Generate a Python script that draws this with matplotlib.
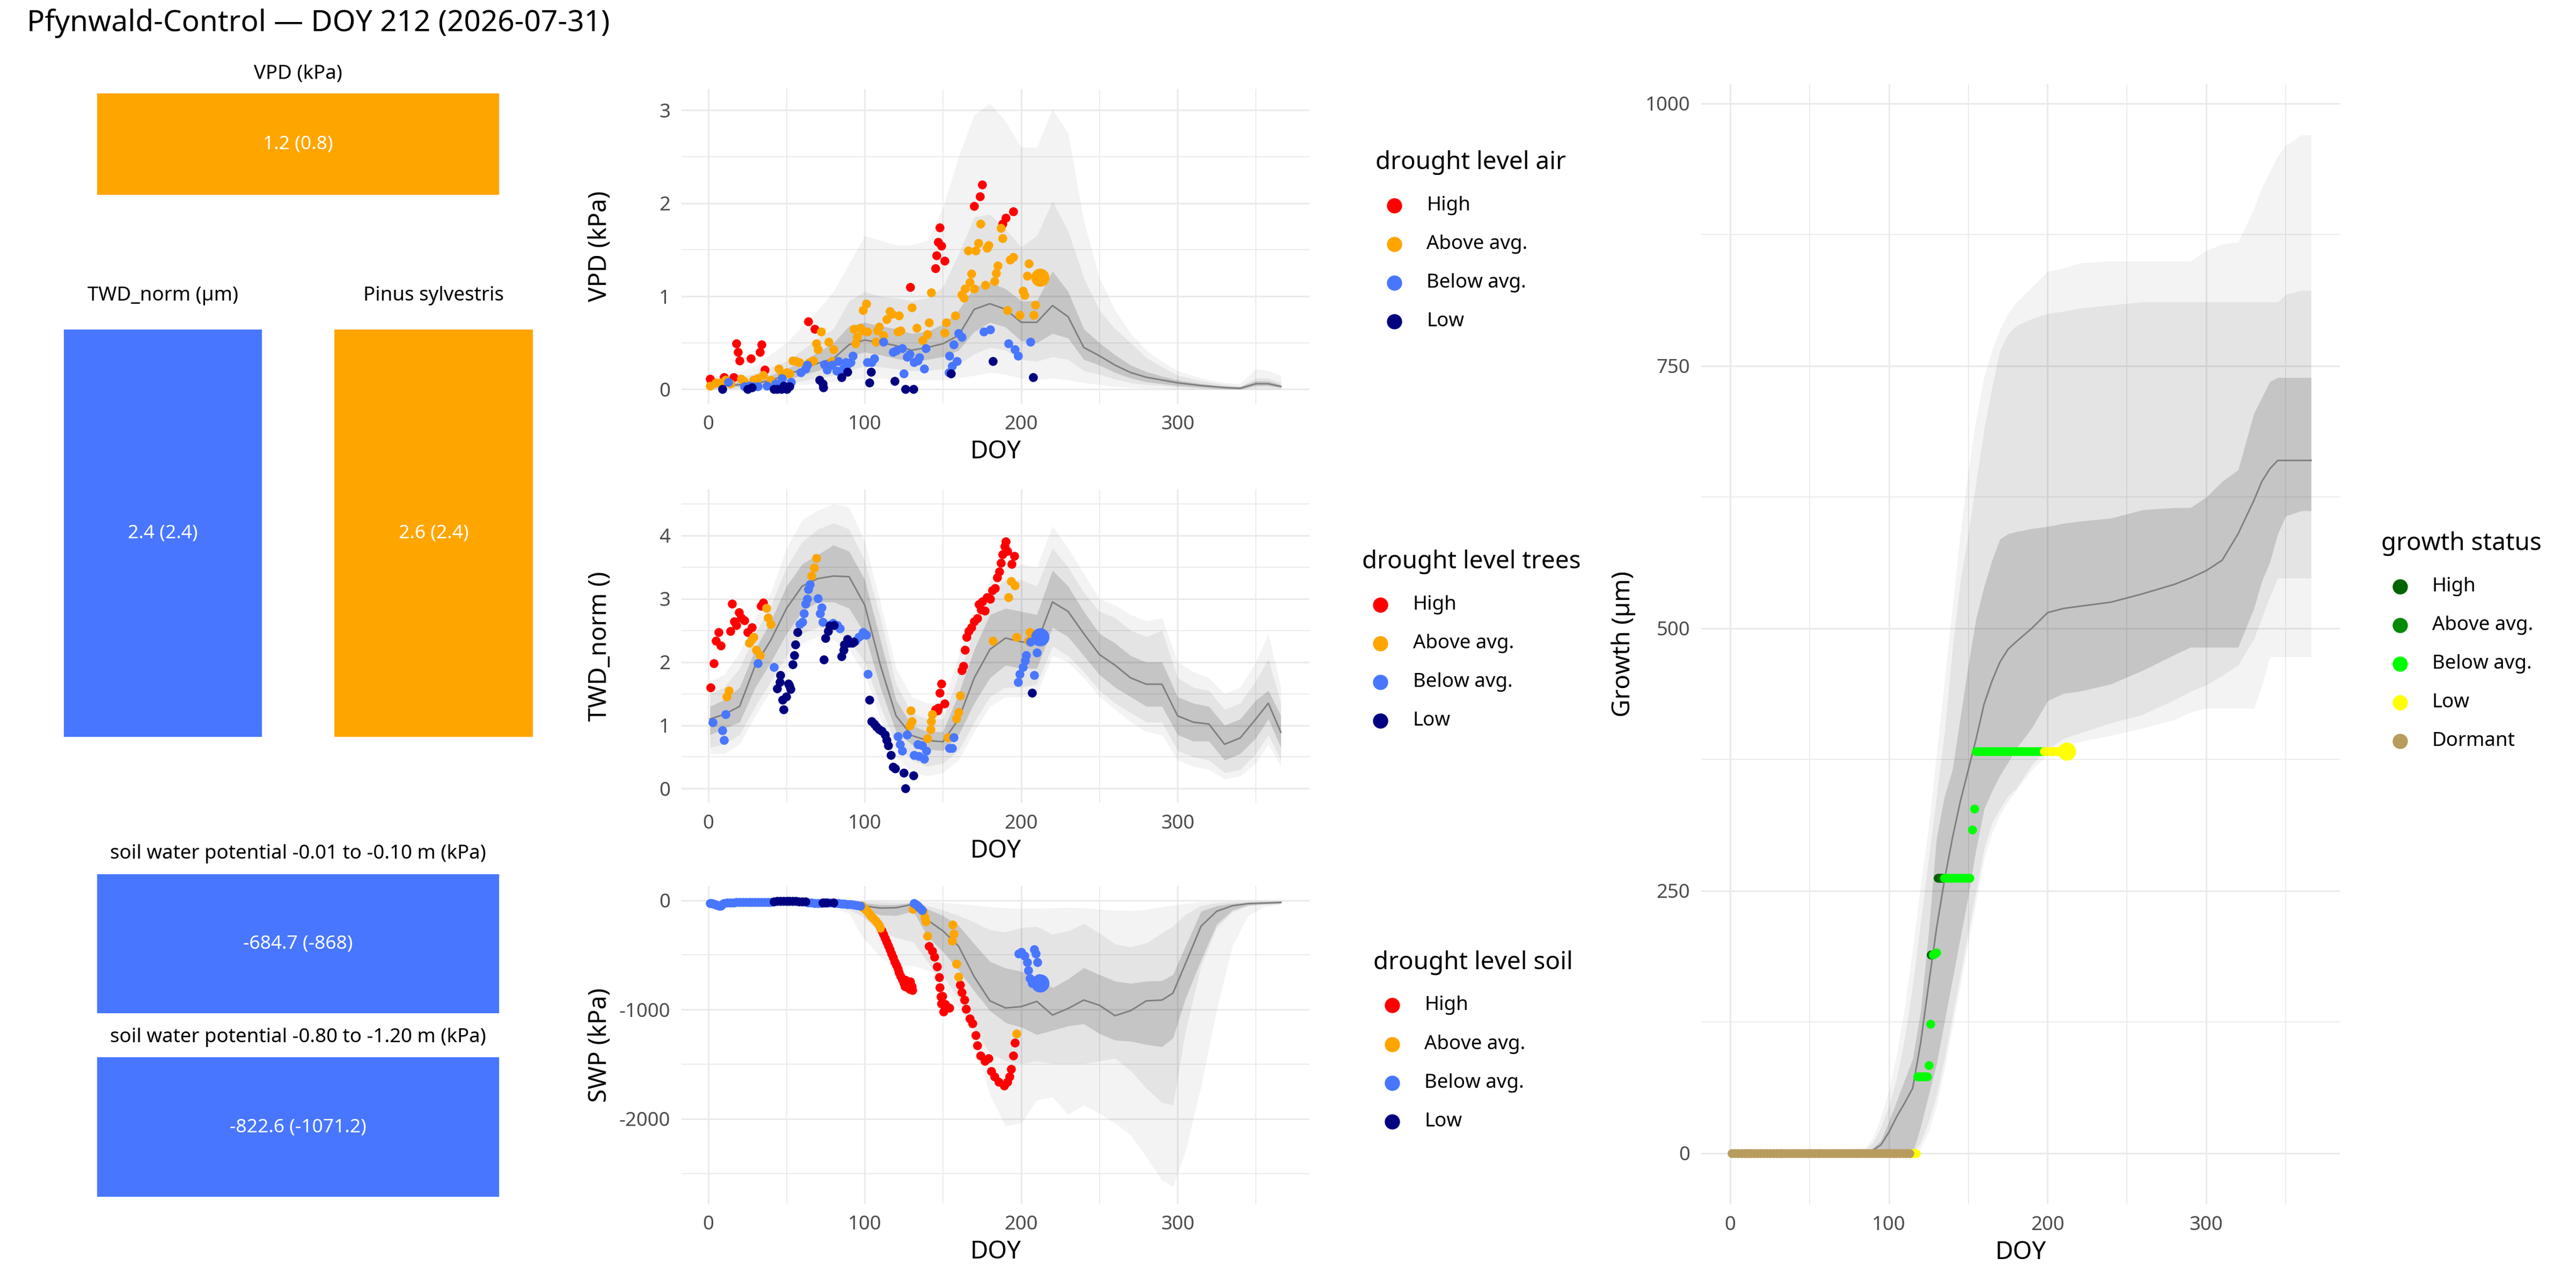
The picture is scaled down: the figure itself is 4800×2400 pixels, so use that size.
import matplotlib.pyplot as plt
from matplotlib.lines import Line2D

plt.rcParams['font.family'] = ['Noto Sans', 'DejaVu Sans']
plt.rcParams['axes.unicode_minus'] = False

# ---------------------------------------------------------------- categories
LEVELS = ["High", "Above avg.", "Below avg.", "Low"]
LEVEL_COLORS = ["#FF0000", "#FFA500", "#4876FF", "#000080"]
GROWTH_LEVELS = ["High", "Above avg.", "Below avg.", "Low", "Dormant"]
GROWTH_COLORS = ["#006400", "#008B00", "#00FF00", "#FFFF00", "#B89C5E"]

title = "Pfynwald-Control \u2014 DOY 212 (2026-07-31)"
today_doy = 212

# ---------------------------------------------------------------- tiles (left)
tile_titles = ["VPD (kPa)", "TWD_norm (\u00b5m)", "Pinus sylvestris",
               "soil water potential -0.01 to -0.10 m (kPa)",
               "soil water potential -0.80 to -1.20 m (kPa)"]
tile_values = [1.2, 2.4, 2.6, -684.7, -822.6]
tile_refs = [0.8, 2.4, 2.4, -868, -1071.2]
tile_levels = ["Above avg.", "Below avg.", "Above avg.", "Below avg.", "Below avg."]

# ---------------------------------------------------------------- VPD
vpd_knots = [1, 10, 20, 30, 40, 50, 60, 70, 80, 90, 100, 110, 120, 130, 140, 150, 160, 170, 180,
             190, 200, 210, 220, 230, 240, 250, 260, 270, 280, 290, 300, 315, 330, 340, 350, 358, 366]
vpd_med = [0.03, 0.04, 0.05, 0.06, 0.1, 0.15, 0.22, 0.28, 0.33, 0.48, 0.53, 0.5, 0.47, 0.42, 0.45, 0.49,
           0.58, 0.86, 0.92, 0.86, 0.72, 0.72, 0.9, 0.78, 0.45, 0.36, 0.26, 0.18, 0.13, 0.1, 0.07, 0.04,
           0.02, 0.01, 0.06, 0.06, 0.03]
vpd_hi1 = [0.05, 0.06, 0.08, 0.1, 0.15, 0.22, 0.3, 0.4, 0.5, 0.68, 0.72, 0.68, 0.65, 0.6, 0.62, 0.7,
           0.85, 1.1, 1.15, 1.08, 0.95, 0.95, 1.27, 1.05, 0.65, 0.5, 0.37, 0.26, 0.19, 0.14, 0.1, 0.06,
           0.03, 0.03, 0.09, 0.09, 0.05]
vpd_lo1 = [0.01, 0.02, 0.03, 0.04, 0.06, 0.1, 0.15, 0.2, 0.25, 0.35, 0.4, 0.37, 0.33, 0.3, 0.32, 0.35,
           0.42, 0.62, 0.72, 0.67, 0.52, 0.5, 0.6, 0.55, 0.32, 0.26, 0.18, 0.12, 0.08, 0.06, 0.04, 0.02,
           0.005, 0.0, 0.04, 0.04, 0.02]
vpd_hi2 = [0.08, 0.1, 0.13, 0.17, 0.24, 0.3, 0.42, 0.55, 0.65, 0.95, 1.05, 1.0, 0.98, 0.95, 0.98, 1.1,
           1.45, 1.85, 1.88, 1.72, 1.53, 1.65, 2.02, 1.7, 1.2, 0.85, 0.65, 0.5, 0.34, 0.24, 0.15, 0.09,
           0.05, 0.03, 0.12, 0.12, 0.07]
vpd_lo2 = [0.0, 0.01, 0.02, 0.02, 0.04, 0.06, 0.09, 0.12, 0.15, 0.2, 0.25, 0.24, 0.22, 0.2, 0.2, 0.22,
           0.27, 0.38, 0.45, 0.42, 0.32, 0.3, 0.35, 0.32, 0.2, 0.16, 0.11, 0.07, 0.05, 0.04, 0.025, 0.01,
           0.0, 0.0, 0.02, 0.02, 0.01]
vpd_hi3 = [0.12, 0.15, 0.2, 0.25, 0.38, 0.5, 0.68, 0.85, 1.05, 1.35, 1.65, 1.6, 1.55, 1.55, 1.6, 1.95,
           2.5, 2.95, 3.07, 2.88, 2.6, 2.6, 3.01, 2.75, 1.81, 1.2, 0.85, 0.6, 0.42, 0.3, 0.2, 0.12,
           0.07, 0.06, 0.22, 0.2, 0.15]
vpd_lo3 = [0.0, 0.0, 0.0, 0.01, 0.02, 0.03, 0.05, 0.06, 0.08, 0.1, 0.12, 0.12, 0.1, 0.1, 0.1, 0.1,
           0.12, 0.15, 0.18, 0.16, 0.12, 0.1, 0.12, 0.1, 0.07, 0.05, 0.03, 0.02, 0.01, 0.01, 0.0, 0.0,
           0.0, 0.0, 0.0, 0.0, 0.0]

vpd_high_doy = [1, 10, 16, 18, 19, 20, 27, 33, 34, 36, 64, 68, 129, 145, 146, 147, 148, 149, 151,
                170, 173.5, 175, 188, 190, 195]
vpd_high_val = [0.11, 0.13, 0.13, 0.49, 0.40, 0.31, 0.33, 0.40, 0.48, 0.21, 0.73, 0.65, 1.10, 1.30,
                1.44, 1.58, 1.74, 1.54, 1.38, 1.97, 2.07, 2.20, 1.78, 1.84, 1.91]
vpd_above_doy = [1, 5, 7.5, 11, 14, 21, 22.6, 29, 31.6, 35, 40, 45, 47, 50, 52, 54, 56, 58, 65, 67,
                 69, 70, 72, 77, 79, 80, 93, 94, 95, 97, 98.5, 99, 101, 101.5, 107, 108, 109, 112, 114,
                 116, 117.5, 121, 122, 123, 130, 133, 137, 140, 141, 142.5, 151, 152, 158, 162, 163.5,
                 164, 166, 167, 168, 170, 171, 172.6, 174, 177, 178, 179, 183, 184, 185, 187, 188, 191,
                 193, 195, 199, 201, 202, 204, 205, 208, 209]
vpd_above_val = [0.04, 0.07, 0.07, 0.10, 0.06, 0.11, 0.09, 0.10, 0.12, 0.15, 0.10, 0.22, 0.15, 0.18,
                 0.17, 0.31, 0.30, 0.29, 0.29, 0.31, 0.49, 0.43, 0.62, 0.51, 0.30, 0.43, 0.65, 0.49,
                 0.56, 0.66, 0.63, 0.85, 0.92, 0.62, 0.51, 0.63, 0.67, 0.58, 0.75, 0.84, 0.81, 0.62,
                 0.79, 0.63, 0.88, 0.66, 0.53, 0.59, 0.72, 1.04, 0.61, 0.72, 0.79, 1.02, 0.98, 1.08,
                 1.49, 1.15, 1.24, 1.08, 1.49, 1.57, 1.78, 1.12, 1.52, 1.55, 1.16, 1.25, 1.33, 1.73,
                 1.62, 0.85, 1.39, 1.42, 0.80, 1.06, 1.01, 1.22, 1.35, 0.80, 0.91]
vpd_below_doy = [12.6, 23, 26, 29, 31.6, 37.6, 43, 47, 53, 59, 62, 63, 74, 76, 79, 82, 83, 86, 88, 89,
                 91, 92.5, 101.5, 104.5, 106, 112, 118, 120, 124, 125, 127, 128.6, 131.6, 134, 135,
                 138, 139, 153.6, 154, 155.7, 157, 159, 160, 162, 176, 180, 192, 196, 198, 206]
vpd_below_val = [0.08, 0.03, 0.04, 0.03, 0.03, 0.04, 0.06, 0.12, 0.08, 0.18, 0.22, 0.26, 0.27, 0.21,
                 0.26, 0.20, 0.30, 0.22, 0.29, 0.27, 0.29, 0.36, 0.29, 0.29, 0.33, 0.51, 0.40, 0.42,
                 0.44, 0.17, 0.35, 0.38, 0.29, 0.31, 0.34, 0.22, 0.44, 0.18, 0.36, 0.25, 0.48, 0.30,
                 0.60, 0.56, 0.62, 0.64, 0.49, 0.43, 0.36, 0.51]
vpd_low_doy = [9, 25, 28, 42, 44, 46.7, 48, 50, 52, 71, 73, 73.5, 85, 89, 103, 104, 119, 126, 131,
               155, 182, 207.5]
vpd_low_val = [0.0, 0.0, 0.02, 0.0, 0.0, 0.0, 0.04, 0.0, 0.03, 0.10, 0.06, 0.02, 0.13, 0.19, 0.07,
               0.19, 0.09, 0.0, 0.0, 0.17, 0.30, 0.13]
vpd_today = 1.2

# ---------------------------------------------------------------- TWD_norm
twd_knots = [1, 10, 20, 30, 40, 50, 60, 70, 80, 90, 100, 110, 120, 130, 140, 150, 160, 170, 180, 190,
             200, 210, 220, 230, 240, 250, 260, 270, 280, 290, 300, 310, 320, 330, 340, 350, 358, 366]
twd_med = [1.1, 1.17, 1.3, 1.95, 2.35, 2.85, 3.2, 3.32, 3.36, 3.35, 2.9, 1.95, 1.15, 0.84, 0.76, 0.74,
           1.1, 1.75, 2.2, 2.38, 2.32, 2.3, 2.95, 2.8, 2.45, 2.12, 1.95, 1.75, 1.65, 1.65, 1.15, 1.05,
           1.02, 0.7, 0.8, 1.1, 1.35, 0.89]
twd_hi1 = [1.3, 1.4, 1.6, 2.2, 2.65, 3.2, 3.55, 3.7, 3.85, 3.75, 3.3, 2.35, 1.4, 1.0, 0.9, 0.9, 1.5,
           2.2, 2.75, 2.85, 2.8, 2.75, 3.45, 3.2, 2.8, 2.45, 2.3, 2.1, 2.0, 2.0, 1.45, 1.35, 1.3, 1.0,
           1.1, 1.4, 1.55, 1.15]
twd_lo1 = [0.85, 0.95, 1.05, 1.6, 2.0, 2.45, 2.8, 2.95, 2.95, 2.85, 2.45, 1.6, 0.9, 0.7, 0.62, 0.6,
           0.85, 1.35, 1.75, 1.95, 1.9, 1.9, 2.55, 2.4, 2.1, 1.8, 1.6, 1.45, 1.3, 1.3, 0.85, 0.75, 0.75,
           0.45, 0.55, 0.8, 1.1, 0.65]
twd_hi2 = [1.5, 1.6, 1.9, 2.45, 2.9, 3.5, 3.9, 4.1, 4.2, 4.1, 3.6, 2.7, 1.65, 1.2, 1.1, 1.1, 1.8, 2.5,
           3.1, 3.3, 3.3, 3.2, 3.8, 3.5, 3.1, 2.8, 2.7, 2.5, 2.4, 2.5, 1.75, 1.6, 1.55, 1.25, 1.35, 1.7,
           2.05, 1.35]
twd_lo2 = [0.65, 0.7, 0.85, 1.3, 1.7, 2.1, 2.45, 2.55, 2.5, 2.35, 2.0, 1.3, 0.7, 0.45, 0.35, 0.4, 0.6,
           1.05, 1.45, 1.6, 1.6, 1.65, 2.25, 2.1, 1.85, 1.55, 1.35, 1.2, 1.05, 1.05, 0.6, 0.5, 0.45,
           0.25, 0.3, 0.55, 0.85, 0.45]
twd_hi3 = [1.7, 1.8, 2.15, 2.7, 3.1, 3.8, 4.25, 4.4, 4.5, 4.45, 3.9, 2.95, 1.9, 1.45, 1.35, 1.35, 2.1,
           2.75, 3.3, 3.5, 3.55, 3.5, 4.15, 3.8, 3.4, 3.0, 2.9, 2.75, 2.65, 2.7, 2.0, 1.85, 1.75, 1.5,
           1.6, 2.0, 2.45, 1.6]
twd_lo3 = [0.55, 0.55, 0.7, 1.15, 1.55, 1.95, 2.3, 2.4, 2.35, 2.2, 1.8, 1.1, 0.5, 0.25, 0.2, 0.25,
           0.45, 0.9, 1.3, 1.45, 1.45, 1.5, 2.1, 2.0, 1.75, 1.45, 1.25, 1.05, 0.9, 0.85, 0.45, 0.35,
           0.3, 0.15, 0.2, 0.4, 0.7, 0.35]

twd_high_doy = [1.5, 3.6, 5, 6.6, 8, 14, 15, 16.6, 18, 19.6, 21, 23, 25, 27.7, 33.7, 35, 145, 146.7,
                147, 148, 149, 151, 162, 163, 164, 165, 166.6, 168, 170, 172, 173, 174.5, 175, 176.6,
                178, 180, 181.6, 183.4, 184.6, 186, 187, 188, 189.5, 190, 191, 194, 195.5]
twd_high_val = [1.60, 1.98, 2.34, 2.47, 2.26, 2.49, 2.92, 2.64, 2.58, 2.79, 2.70, 2.66, 2.47, 2.55,
                2.89, 2.94, 1.25, 1.23, 1.28, 1.51, 1.66, 1.34, 1.87, 1.94, 2.19, 2.40, 2.49, 2.55,
                2.64, 2.69, 2.91, 2.83, 2.96, 2.81, 3.02, 3.00, 3.13, 3.17, 3.34, 3.43, 3.57, 3.70,
                3.83, 3.91, 3.75, 3.55, 3.68]
twd_above_doy = [11.7, 13, 26, 27.7, 29, 30.7, 33, 37, 38, 39.8, 66, 67.5, 69, 128.6, 129.5, 130,
                 140, 142, 142.5, 143, 153, 158.7, 160, 161, 182, 192, 193.4, 196, 197, 204.5, 205.4]
twd_above_val = [1.45, 1.55, 2.30, 2.36, 2.40, 2.19, 2.11, 2.85, 2.70, 2.60, 3.36, 3.49, 3.64, 1.00,
                 1.23, 1.06, 0.79, 0.94, 1.06, 1.17, 0.81, 1.11, 1.21, 1.47, 2.34, 3.02, 3.28, 3.21,
                 2.40, 2.34, 2.47]
twd_below_doy = [2.7, 9, 10, 11, 31.6, 42, 58.4, 60, 61, 62, 63, 64, 65, 70, 71.4, 72.3, 73, 78, 79.8,
                 82.5, 84, 94, 96, 98, 99, 101, 102, 121, 122.6, 124, 127, 131.6, 133.7, 134.6, 136.7,
                 138, 139.5, 154, 155.7, 157, 198, 199, 201, 202.4, 203, 206, 208.4, 210]
twd_below_val = [1.05, 0.92, 0.77, 1.17, 1.98, 1.92, 2.60, 2.63, 2.77, 2.92, 3.00, 3.15, 3.23, 3.01,
                 2.77, 2.86, 2.63, 2.59, 2.62, 2.58, 2.53, 2.34, 2.40, 2.43, 2.47, 2.43, 1.81, 0.83,
                 0.70, 0.60, 0.85, 0.53, 0.70, 0.51, 0.68, 0.47, 0.60, 0.64, 0.64, 0.81, 1.68, 1.81,
                 1.92, 2.02, 2.11, 2.32, 1.79, 2.15]
twd_low_doy = [44, 45.8, 46, 47.3, 48, 49.7, 51, 51.8, 52.4, 54, 55, 55.7, 57, 73.8, 75, 76.5, 77.7,
               80.4, 85, 86.4, 87, 88.8, 90, 92, 93, 103, 104.5, 106, 107.5, 109, 111, 113, 114, 115,
               116.6, 118, 119.6, 125, 126, 131, 207]
twd_low_val = [1.58, 1.68, 1.79, 1.40, 1.25, 1.45, 1.66, 1.62, 1.57, 1.96, 2.11, 2.28, 2.47, 2.04,
               2.38, 2.49, 2.57, 2.58, 2.09, 2.19, 2.28, 2.36, 2.30, 2.30, 2.32, 1.40, 1.06, 1.02,
               0.98, 0.94, 0.91, 0.85, 0.77, 0.68, 0.53, 0.34, 0.32, 0.25, 0.00, 0.21, 1.51]
twd_today = 2.4

# ---------------------------------------------------------------- soil water potential
swp_knots = [1, 20, 40, 60, 80, 90, 98, 104, 110, 120, 131, 140, 150, 160, 170, 180, 190, 200, 210,
             220, 230, 240, 250, 260, 270, 280, 290, 297, 305, 315, 325, 335, 345, 355, 366]
swp_med = [-25, -20, -15, -12, -20, -30, -47, -60, -71, -68, -36, -180, -280, -420, -700, -920, -985,
           -973, -925, -1050, -990, -913, -960, -1056, -1010, -920, -913, -850, -580, -237, -100,
           -50, -30, -25, -19]
swp_hi1 = [-10, -8, -5, -5, -8, -15, -25, -30, -40, -40, -20, -80, -140, -230, -400, -560, -620,
           -650, -700, -800, -720, -617, -680, -740, -760, -740, -735, -680, -420, -100, -50, -30,
           -20, -15, -12]
swp_lo1 = [-40, -35, -30, -25, -35, -50, -80, -110, -135, -140, -100, -330, -470, -640, -830, -1010,
           -1120, -1160, -1230, -1190, -1150, -1130, -1220, -1280, -1290, -1320, -1340, -1260, -900,
           -546, -220, -90, -45, -35, -30]
swp_hi2 = [-5, -5, -3, -3, -5, -8, -10, -12, -15, -20, -15, -50, -90, -140, -200, -270, -290, -250,
           -240, -310, -280, -213, -300, -400, -427, -390, -300, -237, -130, -47, -25, -15, -10, -8, -8]
swp_lo2 = [-60, -50, -45, -40, -60, -90, -142, -220, -290, -340, -380, -560, -790, -990, -1180, -1400,
           -1470, -1495, -1471, -1495, -1495, -1495, -1470, -1447, -1560, -1720, -1850, -1874, -1200,
           -600, -250, -110, -50, -40, -30]
swp_hi3 = [-2, -2, -1, -1, -2, -3, -5, -5, -6, -8, -8, -15, -20, -30, -45, -60, -70, -75, -71, -70,
           -65, -70, -83, -90, -95, -85, -60, -45, -30, -15, -10, -5, -3, -2, -2]
swp_lo3 = [-80, -70, -60, -55, -70, -119, -326, -420, -520, -600, -600, -640, -688, -900, -1300,
           -1780, -2064, -2040, -1827, -1800, -1960, -1874, -1950, -2040, -2150, -2350, -2560, -2620,
           -2300, -1700, -1000, -420, -142, -60, -36]

swp_high_doy = [111, 112, 113, 114, 115, 116, 117, 118, 119, 120, 121, 122, 123, 124, 125, 125.5, 126,
                127, 127.5, 128, 128.6, 129, 130, 130.5, 141, 143, 144.6, 146.3, 147.5, 148, 148.5,
                149, 149.7, 150.3, 151.2, 152.7, 154.2, 161, 162, 163.6, 164.8, 167, 169, 170.8, 172,
                174, 176.8, 179, 181, 183, 185.8, 189, 191, 192.5, 193.7, 195, 196]
swp_high_val = [-276, -310, -345, -380, -415, -450, -490, -525, -560, -590, -625, -660, -695, -725,
                -760, -790, -730, -760, -800, -780, -810, -745, -790, -820, -417, -466, -516, -607,
                -706, -797, -880, -946, -878, -1020, -949, -973, -985, -771, -842, -913, -996, -1080,
                -1127, -1234, -1329, -1423, -1471, -1447, -1566, -1613, -1660, -1696, -1660, -1613,
                -1542, -1423, -1305]
swp_above_doy = [98, 99, 100, 101, 102, 103, 104, 105, 106, 107, 108, 109, 110, 130.6, 137.3, 138.4,
                 139, 140, 155.7, 156, 157, 158.7, 160, 197]
swp_above_val = [-53, -65, -76, -88, -105, -125, -145, -160, -175, -190, -210, -230, -250, -83, -102,
                 -152, -193, -326, -368, -225, -308, -581, -700, -1222]
swp_below_doy = [1, 2, 3, 4, 5, 6, 7, 8, 9, 10, 12, 14, 16, 18, 20, 22, 24, 26, 28, 30, 32, 34, 36,
                 38, 40, 64, 66, 68, 70, 72, 78, 81, 83, 85, 87, 89, 91, 93, 95, 97, 131.6, 132.5,
                 133.5, 134.5, 135.5, 136.5, 198.5, 200, 202, 204, 204.6, 205.4, 207, 208.4, 209.3,
                 210.5, 211.4]
swp_below_val = [-28, -28, -30, -35, -40, -48, -53, -50, -35, -25, -22, -20, -20, -19, -18, -18, -18,
                 -18, -17, -17, -17, -17, -17, -16, -16, -22, -24, -25, -26, -27, -24, -26, -28, -30,
                 -32, -35, -38, -41, -45, -50, -28, -36, -47, -60, -75, -90, -486, -474, -510, -569,
                 -640, -712, -759, -450, -486, -569, -712]
swp_low_doy = [42, 44, 46, 48, 50, 52, 54, 56, 58, 60, 62, 73, 74.5, 76, 80]
swp_low_val = [-12, -9, -7, -6, -6, -7, -8, -9, -10, -11, -12, -20, -21, -22, -24]
swp_today = -760

# ---------------------------------------------------------------- growth
gro_knots = [1, 85, 90, 95, 100, 105, 110, 115, 120, 125, 130, 135, 140, 145, 150, 155, 160, 165, 170,
             175, 180, 190, 200, 210, 220, 240, 260, 280, 290, 300, 310, 320, 330, 335, 340, 345, 350,
             360, 366]
gro_med = [0, 0, 3, 8, 20, 35, 48, 62, 105, 160, 214, 260, 300, 335, 365, 395, 428, 450, 468, 480, 487,
           500, 515, 519, 521, 525, 533, 542, 548, 555, 565, 590, 622, 640, 652, 660, 660, 660, 660]
gro_hi1 = [0, 0, 5, 12, 30, 50, 70, 90, 135, 210, 300, 340, 365, 415, 465, 510, 540, 565, 585, 590,
           592, 595, 597, 600, 602, 605, 613, 615, 615, 625, 640, 651, 705, 720, 735, 739, 739, 739, 739]
gro_lo1 = [0, 0, 0, 0, 0, 0, 0, 0, 25, 55, 85, 125, 165, 205, 245, 290, 328, 345, 360, 372, 385, 405,
           431, 438, 440, 447, 460, 475, 482, 482, 482, 482, 519, 545, 563, 590, 607, 612, 612]
gro_hi2 = [0, 3, 10, 25, 45, 72, 110, 160, 220, 280, 340, 400, 480, 545, 590, 640, 690, 730, 765, 780,
           788, 795, 800, 802, 805, 808, 811, 811, 811, 811, 811, 811, 811, 811, 811, 811, 818, 822, 822]
gro_lo2 = [0, 0, 0, 0, 0, 0, 0, 0, 10, 30, 55, 90, 130, 170, 210, 250, 290, 315, 328, 340, 347, 370,
           385, 395, 400, 410, 418, 432, 440, 446, 455, 465, 490, 510, 530, 548, 548, 548, 548]
gro_hi3 = [0, 5, 15, 35, 60, 95, 140, 195, 255, 310, 380, 450, 520, 590, 650, 700, 740, 765, 785, 800,
           810, 825, 840, 843, 848, 850, 850, 850, 850, 860, 866, 868, 900, 920, 935, 950, 960, 970, 970]
gro_lo3 = [0, 0, 0, 0, 0, 0, 0, 0, 5, 20, 45, 80, 120, 160, 200, 240, 280, 305, 322, 335, 345, 365,
           380, 388, 392, 398, 405, 413, 420, 424, 424, 424, 424, 445, 473, 473, 473, 473, 473]

gro_high_doy = [126.5, 131, 132, 133, 134]
gro_high_val = [189, 262, 262, 262, 262]
gro_above_doy = []
gro_above_val = []
gro_below_doy = [118, 119.5, 121, 122.5, 124, 125, 126, 128, 129, 130, 135, 137, 139, 141, 143, 145,
                 147, 149, 151, 152.6, 154, 155, 157, 159, 161, 163, 165, 167, 169, 171, 173, 175, 177,
                 179, 181, 183, 185, 187, 189, 191, 193, 195, 197]
gro_below_val = [73, 73, 73, 73, 73, 84, 123, 189, 190, 191, 262, 262, 262, 262, 262, 262, 262, 262,
                 262, 308, 328, 383, 383, 383, 383, 383, 383, 383, 383, 383, 383, 383, 383, 383, 383,
                 383, 383, 383, 383, 383, 383, 383, 383]
gro_low_doy = [114, 115.5, 117, 198, 200, 202, 204, 206, 208, 210]
gro_low_val = [0, 0, 0, 383, 383, 383, 383, 383, 383, 383]
gro_dormant_doy = [1, 3, 5, 7, 9, 11, 13, 15, 17, 19, 21, 23, 25, 27, 29, 31, 33, 35, 37, 39, 41, 43,
                   45, 47, 49, 51, 53, 55, 57, 59, 61, 63, 65, 67, 69, 71, 73, 75, 77, 79, 81, 83, 85,
                   87, 89, 91, 93, 95, 97, 99, 101, 103, 105, 107, 109, 111, 113]
gro_dormant_val = [0] * len(gro_dormant_doy)
gro_today = 383

# ---------------------------------------------------------------- styling
W, H = 1568.0, 784.0          # layout measured on a 1568 x 784 copy
GRID = "#EBEBEB"
TICK_COLOR = "#4D4D4D"
BAND_ALPHAS = [0.047, 0.058, 0.135]   # outer, middle, inner
PT_SIZE = 16
TODAY_SIZE = 66


def style_axes(ax, xlim, ylim, yticks, ylabels, yminor, ylabel, label_x):
    ax.set_xlim(*xlim)
    ax.set_ylim(*ylim)
    ax.set_xticks([0, 100, 200, 300])
    ax.set_xticklabels(["0", "100", "200", "300"])
    ax.set_xticks([50, 150, 250, 350], minor=True)
    ax.set_yticks(yticks)
    ax.set_yticklabels(ylabels)
    ax.set_yticks(yminor, minor=True)
    ax.grid(which='major', color=GRID, lw=0.75)
    ax.grid(which='minor', color=GRID, lw=0.45)
    ax.set_axisbelow(True)
    for s in ax.spines.values():
        s.set_visible(False)
    ax.tick_params(which='both', length=0, labelsize=8.8, labelcolor=TICK_COLOR, pad=5)
    ax.set_xlabel("DOY", fontsize=11, labelpad=2.5)
    ax.set_ylabel(ylabel, fontsize=11)
    ax.yaxis.set_label_coords(label_x, 0.5)


def draw_bands(ax, knots, bands, med):
    for (lo, hi), a in zip(bands, BAND_ALPHAS):
        ax.fill_between(knots, lo, hi, color="black", alpha=a, lw=0, zorder=1)
    ax.plot(knots, med, color="#7F7F7F", lw=0.7, zorder=2)


def draw_points(ax, groups, colors):
    for (doy, val), c in zip(groups, colors):
        if doy:
            ax.scatter(doy, val, s=PT_SIZE, color=c, linewidths=0, zorder=3)


def draw_legend(fig, x, y, title, labels, colors):
    fig.text(x, y, title, fontsize=11, ha='left', va='center')
    for i, (lab, c) in enumerate(zip(labels, colors)):
        yy = y - (26.0 + 23.55 * i) / H
        fig.add_artist(Line2D([x + 11.3 / W], [yy], marker='o', ms=5.8, color=c, lw=0,
                              transform=fig.transFigure))
        fig.text(x + 31.0 / W, yy, lab, fontsize=8.8, ha='left', va='center')


fig = plt.figure(figsize=(16, 8), dpi=300)
fig.text(0.0104, 0.982, title, fontsize=13.2, ha='left', va='center')

# ---- left tiles
tile_rects = [[0.0378, 0.8488, 0.1559, 0.0788], [0.0247, 0.4279, 0.0770, 0.3163],
              [0.1298, 0.4279, 0.0770, 0.3163], [0.0378, 0.2134, 0.1559, 0.1080],
              [0.0378, 0.0708, 0.1559, 0.1083]]
tile_title_y = [0.9425, 0.7704, 0.7704, 0.3370, 0.1946]
for rect, ty, name, v, r, lev in zip(tile_rects, tile_title_y, tile_titles, tile_values,
                                     tile_refs, tile_levels):
    ax = fig.add_axes(rect)
    ax.bar([0], [1], width=1, color=LEVEL_COLORS[LEVELS.index(lev)], lw=0)
    ax.set_xlim(-0.5, 0.5)
    ax.set_ylim(0, 1)
    ax.axis('off')
    ax.text(0, 0.5, f"{v:g} ({r:g})", ha='center', va='center', color='white', fontsize=8.5)
    fig.text(rect[0] + rect[2] / 2, ty, name, ha='center', va='center', fontsize=8.8)

XLIM = (-17.25, 384.25)

# ---- VPD
ax1 = fig.add_axes([0.2645, 0.6866, 0.2438, 0.2441])
draw_bands(ax1, vpd_knots, [(vpd_lo3, vpd_hi3), (vpd_lo2, vpd_hi2), (vpd_lo1, vpd_hi1)], vpd_med)
draw_points(ax1, [(vpd_high_doy, vpd_high_val), (vpd_above_doy, vpd_above_val),
                  (vpd_below_doy, vpd_below_val), (vpd_low_doy, vpd_low_val)], LEVEL_COLORS)
ax1.scatter([today_doy], [vpd_today], s=TODAY_SIZE, color=LEVEL_COLORS[1], linewidths=0, zorder=4)
style_axes(ax1, XLIM, (-0.154, 3.224), [0, 1, 2, 3], ["0", "1", "2", "3"], [0.5, 1.5, 2.5],
           "VPD (kPa)", -0.110)

# ---- TWD
ax2 = fig.add_axes([0.2645, 0.3767, 0.2438, 0.2431])
draw_bands(ax2, twd_knots, [(twd_lo3, twd_hi3), (twd_lo2, twd_hi2), (twd_lo1, twd_hi1)], twd_med)
draw_points(ax2, [(twd_high_doy, twd_high_val), (twd_above_doy, twd_above_val),
                  (twd_below_doy, twd_below_val), (twd_low_doy, twd_low_val)], LEVEL_COLORS)
ax2.scatter([today_doy], [twd_today], s=TODAY_SIZE, color=LEVEL_COLORS[2], linewidths=0, zorder=4)
style_axes(ax2, XLIM, (-0.225, 4.725), [0, 1, 2, 3, 4], ["0", "1", "2", "3", "4"],
           [0.5, 1.5, 2.5, 3.5, 4.5], "TWD_norm ()", -0.110)

# ---- SWP
ax3 = fig.add_axes([0.2645, 0.0654, 0.2438, 0.2468])
draw_bands(ax3, swp_knots, [(swp_lo3, swp_hi3), (swp_lo2, swp_hi2), (swp_lo1, swp_hi1)], swp_med)
draw_points(ax3, [(swp_high_doy, swp_high_val), (swp_above_doy, swp_above_val),
                  (swp_below_doy, swp_below_val), (swp_low_doy, swp_low_val)], LEVEL_COLORS)
ax3.scatter([today_doy], [swp_today], s=TODAY_SIZE, color=LEVEL_COLORS[2], linewidths=0, zorder=4)
style_axes(ax3, XLIM, (-2777, 132), [-2000, -1000, 0], ["-2000", "-1000", "0"],
           [-2500, -1500, -500], "SWP (kPa)", -0.110)

# ---- growth
ax4 = fig.add_axes([0.6604, 0.0651, 0.2480, 0.8696])
draw_bands(ax4, gro_knots, [(gro_lo3, gro_hi3), (gro_lo2, gro_hi2), (gro_lo1, gro_hi1)], gro_med)
draw_points(ax4, [(gro_high_doy, gro_high_val), (gro_above_doy, gro_above_val),
                  (gro_below_doy, gro_below_val), (gro_low_doy, gro_low_val),
                  (gro_dormant_doy, gro_dormant_val)], GROWTH_COLORS)
ax4.scatter([today_doy], [gro_today], s=TODAY_SIZE, color=GROWTH_COLORS[3], linewidths=0, zorder=4)
style_axes(ax4, (-18.25, 384.25), (-48.5, 1018.5), [0, 250, 500, 750, 1000],
           ["0", "250", "500", "750", "1000"], [125, 375, 625, 875], "Growth (\u00b5m)", -0.102)

# ---- legends
draw_legend(fig, 837.4 / W, 1 - 99.1 / H, "drought level air", LEVELS, LEVEL_COLORS)
draw_legend(fig, 829.0 / W, 1 - 342.0 / H, "drought level trees", LEVELS, LEVEL_COLORS)
draw_legend(fig, 836.0 / W, 1 - 586.0 / H, "drought level soil", LEVELS, LEVEL_COLORS)
draw_legend(fig, 1449.4 / W, 1 - 331.0 / H, "growth status", GROWTH_LEVELS, GROWTH_COLORS)

fig.savefig("out.png", dpi=300)
